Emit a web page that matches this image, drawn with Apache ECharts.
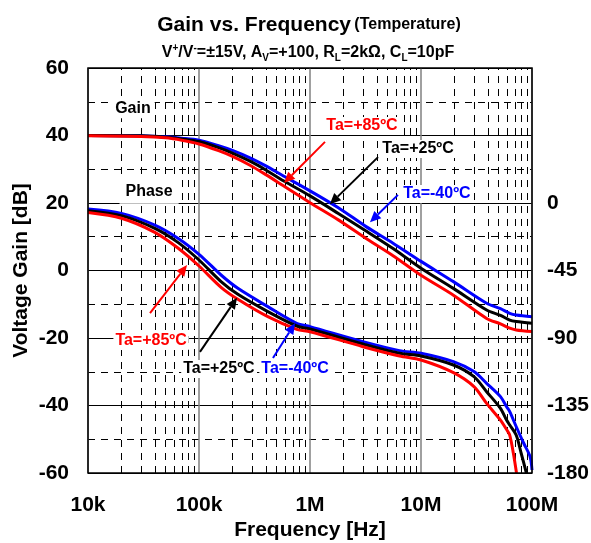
<!DOCTYPE html>
<html><head><meta charset="utf-8">
<script src="https://cdn.jsdelivr.net/npm/echarts@6/dist/echarts.min.js"></script>
<style>html,body{margin:0;padding:0;background:#fff}#c{width:591px;height:543px}</style>
</head><body><div id="c"></div>
<script>
const FONT = '"Liberation Sans", Arial, Helvetica, sans-serif';

// ---- data ----
const xTickLabels = ['10k', '100k', '1M', '10M', '100M'];
const freqGain = [1e4, 3e4, 5e4, 7e4, 1e5, 1.5e5, 2e5, 2.88e5, 4e5, 5.76e5, 1e6, 1.8e6, 3.2e6, 5.6e6, 1e7, 1.96e7, 3.9e7, 5.2e7, 6.3e7, 7.2e7, 1e8];
const gainBlue  = [40, 39.9, 39.6, 39.2, 38.6, 37.0, 35.6, 33.4, 31.0, 28.0, 23.6, 18.6, 13.0, 8.1, 2.7, -3.3, -9.7, -11.3, -12.7, -13.2, -13.7];
const gainBlack = [40, 39.9, 39.5, 39.0, 38.2, 36.4, 34.8, 32.4, 29.8, 26.6, 22.1, 16.9, 11.7, 6.5, 0.7, -5.3, -11.7, -13.3, -14.7, -15.1, -15.6];
const gainRed   = [39.9, 39.7, 39.3, 38.6, 37.5, 35.5, 33.8, 31.2, 28.4, 25.1, 20.1, 15.0, 9.5, 4.4, -1.4, -7.3, -14.2, -15.8, -17.1, -17.6, -18.1];

const freqPhase = [1e4, 2e4, 4e4, 6.5e4, 1e5, 1.58e5, 2.24e5, 4.17e5, 7.59e5, 1e6, 3e6, 6.4e6, 1e7, 1.96e7, 3e7, 3.9e7, 5.2e7, 5.9e7, 6.3e7];
const phaseBlue  = [-4.0, -6.9, -14.7, -23.6, -34.2, -48.0, -56.9, -69.1, -80.2, -82.4, -92.4, -98.4, -100.2, -105.8, -112.4, -120.2, -129.1, -135.8, -139.1];
const phaseBlack = [-5.1, -8.4, -16.9, -26.4, -38.0, -52.4, -60.9, -72.4, -82.0, -84.0, -94.0, -100.2, -102.0, -108.0, -115.8, -125.8, -136.9, -144.7, -148.0];
const phaseRed   = [-6.4, -10.2, -19.6, -30.2, -42.0, -56.2, -64.2, -75.8, -84.2, -85.8, -95.8, -102.0, -104.7, -113.1, -122.4, -133.6, -144.7, -151.0, -154.7];
const freqTailBlue  = [7.2e7, 8.4e7, 9.6e7, 1e8];
const phaseTailBlue = [-149, -160, -169, -178];
const freqTailBlack  = [7.2e7, 8.0e7, 8.9e7];
const phaseTailBlack = [-154.7, -167, -180];
const freqTailRed  = [6.8e7, 7.25e7];
const phaseTailRed = [-167, -180];

const rightTickMax = 0; // right axis labels shown only up to 0 deg

// annotations: [text, color, labelPos, arrowFrom, arrowTo] in (Hz, dB)
const annotations = [
  ['Ta=+85ºC', '#ff0000', [2.94e6, 42.8], [1.365e6, 38.1], [5.83e5, 25.9]],
  ['Ta=+25ºC', '#000000', [9.4e6, 36.0], [4.1e6, 33.6], [1.51e6, 19.6]],
  ['Ta=-40ºC', '#0000ff', [1.39e7, 22.7], [6.2e6, 22.4], [3.47e6, 14.3]],
  ['Ta=+85ºC', '#ff0000', [3.7e4, -20.9], [3.62e4, -12.6], [7.8e4, 1.6]],
  ['Ta=+25ºC', '#000000', [1.51e5, -29.2], [1.02e5, -24.1], [2.2e5, -8.1]],
  ['Ta=-40ºC', '#0000ff', [7.33e5, -29.2], [4.64e5, -25.9], [7.33e5, -15.6]]
];

const pairs = (xs, ys) => xs.map((x, i) => [x, ys[i]]);
const minorFreqs = [];
for (let d = 1e4; d < 1e8; d *= 10) for (let k = 2; k <= 9; k++) minorFreqs.push(k * d);

const chart = echarts.init(document.getElementById('c'), null, {renderer: 'canvas'});
const mkSeries = (name, data, color, yIdx) => ({
  name, type: 'line', data, xAxisIndex: 0, yAxisIndex: yIdx, showSymbol: false, smooth: 0.3,
  lineStyle: {color, width: 3}, itemStyle: {color}, z: 5, animation: false, clip: true
});
const axisFont = {fontSize: 21, fontWeight: 'bold', color: '#000', fontFamily: FONT};

chart.setOption({
  animation: false,
  grid: {left: 88, right: 59, top: 68, bottom: 70, containLabel: false, outerBoundsMode: 'none'},
  xAxis: {
    type: 'log', logBase: 10, min: 1e4, max: 1e8,
    axisLine: {show: false}, axisTick: {show: false},
    axisLabel: Object.assign({formatter: v => xTickLabels[Math.round(Math.log10(v)) - 4] || '', margin: 22}, axisFont),
    splitLine: {show: true, lineStyle: {color: '#808080', width: 1.5}},
    name: 'Frequency [Hz]', nameLocation: 'middle', nameGap: 47, nameMoveOverlap: false,
    nameTextStyle: axisFont
  },
  yAxis: [{
    type: 'value', min: -60, max: 60, interval: 20, position: 'left',
    axisLine: {show: false}, axisTick: {show: false},
    axisLabel: Object.assign({margin: 19}, axisFont),
    splitLine: {show: true, lineStyle: {color: '#000', width: 1}},
    minorTick: {show: false, splitNumber: 2},
    minorSplitLine: {show: true, lineStyle: {color: '#000', width: 1, type: [7, 6]}},
    name: 'Voltage Gain [dB]', nameLocation: 'middle', nameGap: 56, nameMoveOverlap: false,
    nameTextStyle: axisFont
  }, {
    type: 'value', min: -180, max: 90, interval: 45, position: 'right',
    axisLine: {show: false}, axisTick: {show: false}, splitLine: {show: false},
    axisLabel: Object.assign({formatter: v => (v <= rightTickMax ? String(v) : ''), margin: 15}, axisFont)
  }],
  series: [
    {type: 'line', data: [], xAxisIndex: 0, yAxisIndex: 0, silent: true, z: 1,
     markLine: {silent: true, symbol: ['none', 'none'], label: {show: false}, animation: false,
       lineStyle: {color: '#000', width: 1, type: [7, 6]},
       emphasis: {disabled: true},
       data: minorFreqs.map(f => ({xAxis: f}))}},
    mkSeries('Gain -40', pairs(freqGain, gainBlue), '#0000ff', 0),
    mkSeries('Gain +25', pairs(freqGain, gainBlack), '#000000', 0),
    mkSeries('Gain +85', pairs(freqGain, gainRed), '#ff0000', 0),
    mkSeries('Phase -40', pairs(freqPhase.concat(freqTailBlue), phaseBlue.concat(phaseTailBlue)), '#0000ff', 1),
    mkSeries('Phase +25', pairs(freqPhase.concat(freqTailBlack), phaseBlack.concat(phaseTailBlack)), '#000000', 1),
    mkSeries('Phase +85', pairs(freqPhase.concat(freqTailRed), phaseRed.concat(phaseTailRed)), '#ff0000', 1)
  ]
});

const P = (f, v) => chart.convertToPixel({xAxisIndex: 0, yAxisIndex: 0}, [f, v]);
const g = [];
// frame
const tl = P(1e4, 60), br = P(1e8, -60);
g.push({type: 'rect', z: 20, silent: true, shape: {x: tl[0], y: tl[1], width: br[0] - tl[0], height: br[1] - tl[1]},
  style: {fill: 'none', stroke: '#000', lineWidth: 1.5}});
// title
g.push({type: 'text', x: 309, y: 25, z: 30, style: {
  text: '{a|Gain vs. Frequency} {b|(Temperature)}', align: 'center', verticalAlign: 'middle',
  rich: {a: {font: 'bold 21px ' + FONT, fill: '#000'}, b: {font: 'bold 16px ' + FONT, fill: '#000'}}}});
g.push({type: 'text', x: 308, y: 53, z: 30, style: {
  text: '{t|V}{sup|+}{t|/V}{sup|-}{t|=±15V, A}{sub|V}{t|=+100, R}{sub|L}{t|=2kΩ, C}{sub|L}{t|=10pF}',
  align: 'center', verticalAlign: 'middle',
  rich: {
    t: {font: 'bold 16px ' + FONT, fill: '#000', lineHeight: 20},
    sup: {font: 'bold 10px ' + FONT, fill: '#000', lineHeight: 20, verticalAlign: 'top'},
    sub: {font: 'bold 10px ' + FONT, fill: '#000', lineHeight: 20, verticalAlign: 'bottom'}
  }}});
// Gain / Phase labels
const gp = P(2.54e4, 48.1), pp = P(3.55e4, 23.3);
g.push({type: 'text', x: gp[0], y: gp[1], z: 25, style: {text: 'Gain', font: 'bold 16px ' + FONT, fill: '#000',
  align: 'center', verticalAlign: 'middle', backgroundColor: '#fff', padding: [2, 4]}});
g.push({type: 'text', x: pp[0], y: pp[1], z: 25, style: {text: 'Phase', font: 'bold 16px ' + FONT, fill: '#000',
  align: 'center', verticalAlign: 'middle', backgroundColor: '#fff', padding: [4, 6]}});
// annotations with arrows
annotations.forEach(([txt, col, lp, af, at]) => {
  const L = P(lp[0], lp[1]), A = P(af[0], af[1]), T = P(at[0], at[1]);
  const ang = Math.atan2(T[1] - A[1], T[0] - A[0]);
  const hl = 11, hw = 5;
  const bx = T[0] - hl * Math.cos(ang), by = T[1] - hl * Math.sin(ang);
  g.push({type: 'line', z: 24, silent: true, shape: {x1: A[0], y1: A[1], x2: bx, y2: by}, style: {stroke: col, lineWidth: 2}});
  g.push({type: 'polygon', z: 24, silent: true, shape: {points: [
    [T[0], T[1]],
    [bx + hw * Math.sin(ang), by - hw * Math.cos(ang)],
    [bx - hw * Math.sin(ang), by + hw * Math.cos(ang)]]}, style: {fill: col}});
  g.push({type: 'text', x: L[0], y: L[1], z: 25, style: {text: txt, font: 'bold 16px ' + FONT, fill: col,
    align: 'center', verticalAlign: 'middle', backgroundColor: '#fff', padding: [1, 2]}});
});
chart.setOption({graphic: g});
</script></body></html>
